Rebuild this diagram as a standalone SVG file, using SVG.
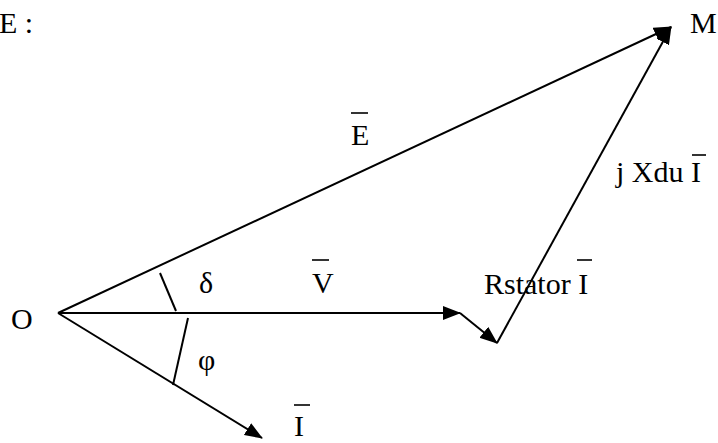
<svg xmlns="http://www.w3.org/2000/svg" width="718" height="443" viewBox="0 0 718 443">
<defs>
<style>
.t{font-family:"Liberation Serif","Times New Roman",serif;font-size:30px;fill:#000}
.v{stroke:#000;stroke-width:2;fill:none}
.bar{stroke:#000;stroke-width:1.6}
</style>
<marker id="ah" markerUnits="userSpaceOnUse" markerWidth="19" markerHeight="15" refX="17" refY="7" orient="auto" viewBox="0 0 19 15">
<path d="M0,0 L18,7 L0,14 z" fill="#000"/>
</marker>
</defs>
<rect width="718" height="443" fill="#fff"/>
<g id="title"><text class="t" x="-1" y="33">E :</text></g>
<g id="connectors">
<line id="vecE" class="v" x1="58" y1="313" x2="671" y2="27" marker-end="url(#ah)"/>
<line id="vecV" class="v" x1="58" y1="313" x2="460" y2="313" marker-end="url(#ah)"/>
<line id="vecI" class="v" x1="58" y1="313" x2="262" y2="438" marker-end="url(#ah)"/>
<line id="vecR" class="v" x1="460" y1="313" x2="497" y2="343" marker-end="url(#ah)"/>
<line id="vecX" class="v" x1="497" y1="343" x2="671" y2="27" marker-end="url(#ah)"/>
<line id="tickDelta" class="v" x1="160" y1="273" x2="176" y2="311"/>
<line id="tickPhi" class="v" x1="188" y1="318" x2="173" y2="385"/>
</g>
<g id="nodeO"><text class="t" x="11" y="329">O</text></g>
<g id="nodeM"><text class="t" x="690" y="33">M</text></g>
<g id="labelE"><text class="t" x="351" y="145">E</text><line class="bar" x1="351" y1="113" x2="368" y2="113"/></g>
<g id="labelV"><text class="t" x="312" y="293">V</text><line class="bar" x1="312" y1="260" x2="329" y2="260"/></g>
<g id="labelDelta"><text class="t" x="199" y="293">δ</text></g>
<g id="labelPhi"><text class="t" x="198" y="370">φ</text></g>
<g id="labelR"><text class="t" x="484" y="294">Rstator I</text><line class="bar" x1="577" y1="260" x2="592" y2="260"/></g>
<g id="labelX"><text class="t" x="616" y="182">j Xdu I</text><line class="bar" x1="692" y1="155" x2="706" y2="155"/></g>
<g id="labelI"><text class="t" x="294" y="436">I</text><line class="bar" x1="294" y1="405" x2="310" y2="405"/></g>
</svg>
